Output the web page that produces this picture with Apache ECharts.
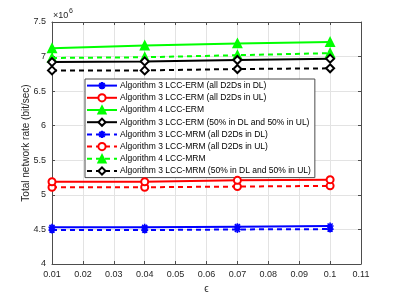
<!DOCTYPE html>
<html><head><meta charset="utf-8">
<script src="https://cdn.jsdelivr.net/npm/echarts@6/dist/echarts.min.js"></script>
<style>html,body{margin:0;padding:0;background:#fff}#c{width:399px;height:299px}</style>
</head><body><div id="c"></div>
<script>
const epsilon = [0.01, 0.04, 0.07, 0.1];
const xTicks = [0.01,0.02,0.03,0.04,0.05,0.06,0.07,0.08,0.09,0.1,0.11];
const yTicks = [4,4.5,5,5.5,6,6.5,7,7.5];
const names = [
 'Algorithm 3 LCC-ERM (all D2Ds in DL)',
 'Algorithm 3 LCC-ERM (all D2Ds in UL)',
 'Algorithm 4 LCC-ERM',
 'Algorithm 3 LCC-ERM (50% in DL and 50% in UL)',
 'Algorithm 3 LCC-MRM (all D2Ds in DL)',
 'Algorithm 3 LCC-MRM (all D2Ds in UL)',
 'Algorithm 4 LCC-MRM',
 'Algorithm 3 LCC-MRM (50% in DL and 50% in UL)'
];
// values in units of 10^6 bit/sec
const ermDL   = [4.53, 4.53, 4.54, 4.55];
const ermUL   = [5.19, 5.19, 5.21, 5.22];
const alg4ERM = [7.12, 7.16, 7.19, 7.21];
const ermMix  = [6.92, 6.93, 6.95, 6.97];
const mrmDL   = [4.49, 4.49, 4.50, 4.505];
const mrmUL   = [5.11, 5.11, 5.12, 5.13];
const alg4MRM = [6.98, 6.99, 7.02, 7.05];
const mrmMix  = [6.80, 6.80, 6.82, 6.83];

const star = 'path://M0,-5L0,5M-5,0L5,0M-3.6,-3.6L3.6,3.6M-3.6,3.6L3.6,-3.6';
const cols = ['#0000ff','#ff0000','#00ff00','#000000'];
const syms = [star,'emptyCircle','triangle','emptyDiamond'];
const sizes = [7,7,8,8];
const datasets = [ermDL, ermUL, alg4ERM, ermMix, mrmDL, mrmUL, alg4MRM, mrmMix];

const series = datasets.map((d,i)=>{
  const k = i%4, dashed = i>=4;
  return {
    name: names[i], type:'line', data: d.map((v,j)=>[epsilon[j],v]),
    symbol: syms[k], symbolSize: sizes[k], showAllSymbol:true,
    lineStyle:{color:cols[k], width:2, type: dashed?[5,4]:'solid'},
    itemStyle:{color: cols[k], borderColor:cols[k], borderWidth:k===0?1.6:1.8},
    emphasis:{disabled:true}, animation:false, z: 10-i
  };
});

const font = 'Liberation Sans, Arial, sans-serif';
const chart = echarts.init(document.getElementById('c'));
const gridLine = {show:true, lineStyle:{color:'#e3e3e3', width:1}};
const axLine = {show:true, lineStyle:{color:'#4d4d4d', width:1}};
chart.setOption({
  animation:false,
  grid:{left:52, right:38, top:22, bottom:33},
  xAxis:[{type:'value', min:0.01, max:0.11, interval:0.01,
    axisLine:axLine, axisTick:{show:true, inside:true, length:3, lineStyle:{color:'#4d4d4d'}},
    splitLine:gridLine,
    axisLabel:{color:'#262626', fontSize:9, fontFamily:font, margin:6,
      formatter:v=>{const t=xTicks.find(x=>Math.abs(x-v)<1e-9); return t===undefined?'':String(t);}},
    name:'ϵ', nameLocation:'middle', nameGap:20, nameMoveOverlap:false,
    nameTextStyle:{color:'#262626', fontSize:10, fontFamily:font}},
   {type:'value', position:'top', min:0.01, max:0.11, interval:0.01, axisLine:axLine,
    axisTick:{show:true, inside:true, length:3, lineStyle:{color:'#4d4d4d'}}, axisLabel:{show:false}, splitLine:{show:false}}],
  yAxis:[{type:'value', min:4, max:7.5, interval:0.5,
    axisLine:axLine, axisTick:{show:true, inside:true, length:3, lineStyle:{color:'#4d4d4d'}},
    splitLine:gridLine,
    axisLabel:{color:'#262626', fontSize:9, fontFamily:font, margin:6,
      formatter:v=>{const t=yTicks.find(x=>Math.abs(x-v)<1e-9); return t===undefined?'':String(t);}},
    name:'Total network rate (bit/sec)', nameLocation:'middle', nameGap:21, nameMoveOverlap:false,
    nameTextStyle:{color:'#262626', fontSize:10, fontFamily:font}},
   {type:'value', position:'right', min:4, max:7.5, interval:0.5, axisLine:axLine,
    axisTick:{show:true, inside:true, length:3, lineStyle:{color:'#4d4d4d'}}, axisLabel:{show:false}, splitLine:{show:false}}],
  legend:{orient:'vertical', left:85, top:79, padding:[2,4,2,1], itemGap:3, itemWidth:30, itemHeight:9,
    backgroundColor:'#fff', borderColor:'#4d4d4d', borderWidth:1, borderRadius:0,
    textStyle:{fontSize:8.5, fontFamily:font, color:'#000', padding:[0,0,0,-2]},
    data:names, selectedMode:false},
  graphic:[{type:'text', left:53, top:11, style:{text:'×10', fontSize:9, fontFamily:font, fill:'#262626'}},
           {type:'text', left:69, top:8, style:{text:'6', fontSize:7, fontFamily:font, fill:'#262626'}}],
  series: series
});
</script></body></html>
